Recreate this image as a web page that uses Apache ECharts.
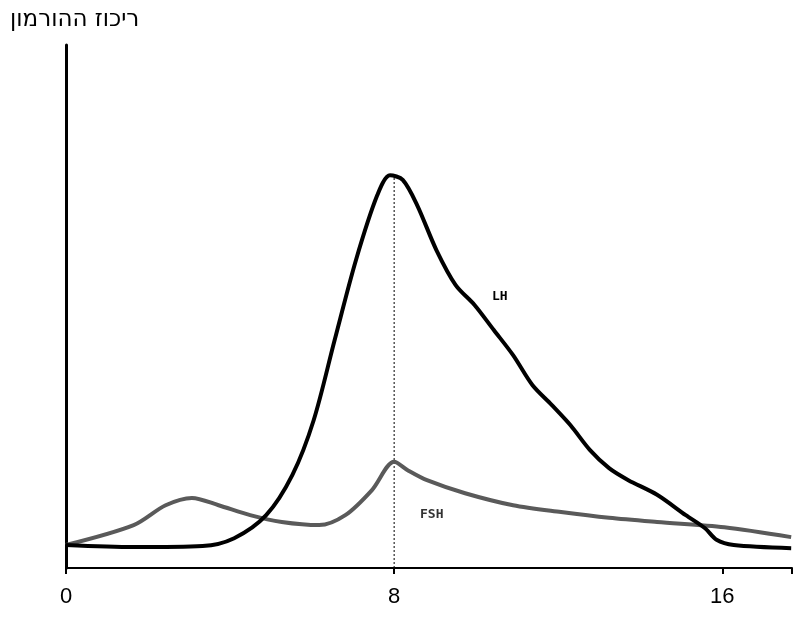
<!DOCTYPE html>
<html><head><meta charset="utf-8">
<script src="https://cdn.jsdelivr.net/npm/echarts@6/dist/echarts.min.js"></script>
<style>html,body{margin:0;padding:0;background:#fff}#c{width:800px;height:628px}</style>
</head><body><div id="c"></div>
<script>
const lhX=[0,1.65,3.33,4.10,4.88,5.52,6.04,6.55,7.07,7.59,7.90,8.21,8.56,9.03,9.50,9.96,10.43,10.90,11.37,11.84,12.30,12.77,13.24,13.71,14.41,15.11,15.58,15.86,16.28,17.68];
const lhY=[4.4,4.0,4.2,5.7,10.1,17.8,28.3,43.6,58.9,71.3,75.1,74.2,69.4,60.8,54.1,50.3,45.5,40.7,35.0,31.2,27.3,22.6,19.1,16.8,14.0,10.1,7.6,5.4,4.4,3.8];
const fshX=[0,1.65,2.43,3.07,3.72,4.49,5.26,6.17,6.81,7.46,8,8.33,8.80,9.73,10.90,12.07,13.24,14.41,16.05,17.68];
const fshY=[4.4,8.2,12.0,13.4,12.0,10.1,8.8,8.2,10.1,14.9,20.3,18.7,16.8,14.3,12.0,10.7,9.6,8.8,7.8,5.9];
const xTicks=[0,8,16];
const title='ריכוז ההורמון';
const zip=(a,b)=>a.map((v,i)=>[v,b[i]]);
const ch=echarts.init(document.getElementById('c'));
ch.setOption({
 animation:false,
 title:{text:title,left:5,top:4,textStyle:{fontSize:23,fontWeight:'normal',color:'#000',fontFamily:'DejaVu Sans'}},
 grid:{left:66,right:8,top:45,bottom:60},
 xAxis:{type:'value',min:0,max:17.7,interval:8,
  axisLine:{lineStyle:{color:'#000',width:2}},
  axisTick:{show:true,length:6,lineStyle:{color:'#000',width:2}},
  splitLine:{show:false},
  axisLabel:{fontSize:22,color:'#000',margin:18,fontFamily:'Liberation Sans',
    formatter:v=>xTicks.includes(v)?String(v):''}},
 yAxis:{type:'value',min:0,max:100,axisLine:{show:true,lineStyle:{color:'#000',width:3}},
  axisTick:{show:false},axisLabel:{show:false},splitLine:{show:false}},
 series:[
  {type:'line',data:[[8,0],[8,75.1]],symbol:'none',lineStyle:{color:'#000',width:1,type:[2,2]},silent:true},
  {type:'line',name:'FSH',data:zip(fshX,fshY),symbol:'none',smooth:0.3,lineStyle:{color:'#5a5a5a',width:4}},
  {type:'line',name:'LH',data:zip(lhX,lhY),symbol:'none',smooth:0.3,lineStyle:{color:'#000',width:4}}
 ],
 graphic:[
  {type:'text',left:492,top:290,style:{text:'LH',font:'bold 13px "DejaVu Sans Mono"',fill:'#000'}},
  {type:'text',left:420,top:508,style:{text:'FSH',font:'bold 13px "DejaVu Sans Mono"',fill:'#333'}}
 ]
});
</script></body></html>
